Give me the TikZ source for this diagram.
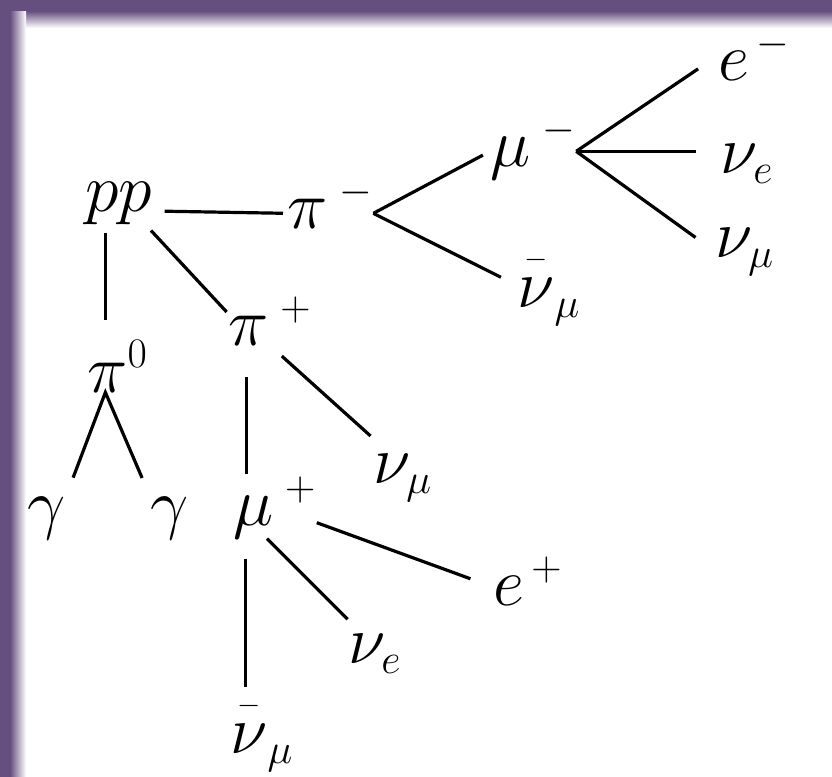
\RequirePackage{fix-cm}
\documentclass[tikz,border=0pt]{standalone}
\usepackage{amsmath}
\DeclareMathSizes{34}{34}{21}{15}
\definecolor{framepurple}{RGB}{101,79,126}
\newcommand{\nubar}{{\overset{\scriptscriptstyle -}{\nu}}}
\begin{document}
\fontsize{34}{40}\selectfont
\begin{tikzpicture}[x=0.5pt,y=-0.5pt,
  lbl/.style={inner sep=0pt,anchor=base west,font=\fontsize{34}{40}\selectfont},
  leg/.style={line width=1.6pt}]
  % frame
  \useasboundingbox (0,0) rectangle (832,777);
  \fill[white] (0,0) rectangle (832,777);
  \fill[framepurple] (0,0) rectangle (832,11);
  \shade[top color=framepurple,bottom color=white] (0,11) rectangle (832,28);
  \fill[framepurple] (0,0) rectangle (10,777);
  \shade[left color=framepurple,right color=white] (10,11) rectangle (26,777);
  % particles
  \node[lbl] (pp) at (85,211) {$pp$};
  \node[lbl] (pim) at (287,228) {$\pi^{\;-}$};
  \node[lbl] (mum) at (490,166) {$\mu^{\;-}$};
  \node[lbl] (em) at (718,80) {$e^{\,-}$};
  \node[lbl] (nue1) at (720,173) {$\nu_e$};
  \node[lbl] (num1) at (715,257) {$\nu_\mu$};
  \node[lbl] (nub1) at (517,307) {$\nubar_\mu$};
  \node[lbl] (piz) at (87,392) {$\pi^0$};
  \node[lbl] (ga1) at (27,526) {$\gamma$};
  \node[lbl] (ga2) at (150,526) {$\gamma$};
  \node[lbl] (pip) at (228,345) {$\pi^{\;+}$};
  \node[lbl] (num2) at (373,483) {$\nu_\mu$};
  \node[lbl] (mup) at (233,525) {$\mu^{\;+}$};
  \node[lbl] (ep) at (493,605) {$e^{\,+}$};
  \node[lbl] (nue2) at (348,663) {$\nu_e$};
  \node[lbl] (nub2) at (230,753) {$\nubar_\mu$};
  % decays
  \draw[leg,shorten <=6pt,shorten >=2pt] (pp.base east) -- (pim.mid west);
  \draw[leg,shorten >=4pt] (pim.mid east) -- (mum.mid west);
  \draw[leg,shorten >=9pt] (pim.mid east) -- (nub1.west);
  \draw[leg,shorten >=12pt] (mum.mid east) -- (em.west);
  \draw[leg,shorten >=12pt] (mum.mid east) -- (mum.mid east -| nue1.west);
  \draw[leg,shorten >=12pt] (mum.mid east) -- (num1.west);
  \draw[leg,shorten <=4pt,shorten >=10pt] (pp.238) -- (pp.238 |- piz.north);
  \draw[leg,shorten <=10pt,shorten >=10pt] (ga1.north east) -- (piz.245) -- (ga2.north west);
  \draw[leg,shorten <=4pt,shorten >=1pt] (pp.321) -- (pip.170);
  \draw[leg,shorten <=8pt,shorten >=13pt] (pip.south) -- (num2.118);
  \draw[leg,shorten <=16pt,shorten >=1pt] (pip.226) -- (pip.226 |- mup.north);
  \draw[leg,shorten >=12pt] (mup.340) -- (ep.190);
  \draw[leg,shorten >=10pt] (mup.256) -- (nue2.123);
  \draw[leg,shorten <=10pt,shorten >=2pt] (mup.227) -- (mup.227 |- nub2.north);
\end{tikzpicture}
\end{document}
